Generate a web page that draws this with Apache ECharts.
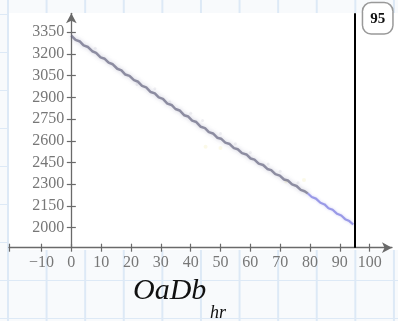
<!DOCTYPE html>
<html><head><meta charset="utf-8">
<script src="https://cdn.jsdelivr.net/npm/echarts@6/dist/echarts.min.js"></script>
<style>
html,body{margin:0;padding:0;}
body{width:398px;height:321px;overflow:hidden;background-color:#f8fafc;
background-image:linear-gradient(to right,#dde9f6 1.5px,transparent 1.5px),linear-gradient(to bottom,#dde9f6 1.5px,transparent 1.5px);
background-size:38.6px 38px;background-position:7px 14px;position:relative;}
#panel{position:absolute;left:9px;top:13px;width:389px;height:237px;background:#fff;}
#chart{position:absolute;left:0;top:0;width:398px;height:321px;}
</style></head><body><div id="panel"></div><div id="chart"></div>
<script>
// ---- data ----
const xTicks = [-10, 0, 10, 20, 30, 40, 50, 60, 70, 80, 90, 100];
const yTicks = [2000, 2150, 2300, 2450, 2600, 2750, 2900, 3050, 3200, 3350];
const markX = 95;
const mainX = [0, 1.4, 2.9, 4.1, 5.6, 7.0, 8.3, 9.8, 11.2, 12.5, 13.9, 15.4, 16.8, 18.1, 19.5, 21.0, 22.4, 23.7, 25.1, 26.6, 28.0, 29.3, 30.7, 32.2, 33.6, 34.9, 36.3, 37.8, 39.2, 40.5, 41.9, 43.4, 44.8, 46.1, 47.5, 48.9, 50.2, 51.6, 53.1, 54.5, 55.8, 57.2, 58.7, 60.1, 61.4, 62.8, 64.3, 65.7, 67.0, 68.4, 69.9, 71.3, 72.6, 74.0, 75.5, 76.9, 78.2, 79.3];
const mainY = [3327, 3298, 3286, 3259, 3248, 3219, 3208, 3177, 3167, 3140, 3129, 3098, 3087, 3058, 3049, 3019, 3008, 2980, 2969, 2937, 2928, 2900, 2890, 2857, 2848, 2820, 2810, 2777, 2768, 2740, 2730, 2697, 2688, 2660, 2651, 2622, 2615, 2588, 2578, 2550, 2542, 2515, 2506, 2478, 2470, 2443, 2433, 2406, 2398, 2370, 2360, 2333, 2326, 2299, 2288, 2261, 2252, 2236];
const tailX = [79.3, 80.6, 82.0, 83.5, 84.9, 86.2, 87.6, 89.1, 90.5, 91.8, 93.2, 94.5];
const tailY = [2236, 2212, 2201, 2172, 2161, 2135, 2124, 2096, 2084, 2059, 2046, 2022];
const faintX = [8, 22, 28, 33, 40, 44, 50, 55, 60, 66, 70, 76];
const faintY = [3240, 2990, 2960, 2870, 2790, 2740, 2650, 2580, 2520, 2440, 2390, 2310];
const paleX = [45, 50, 72, 78];
const paleY = [2560, 2550, 2320, 2330];

const X_MIN = -20.9, X_MAX = 107.5, Y_MIN = 1862, Y_MAX = 3481;
const GRID_LEFT = 9, GRID_RIGHT = 6;
const zip = (a, b) => a.map((v, i) => [v, b[i]]);
const axisColor = '#6a6a6a';
const font = 'Liberation Serif';
const minus = v => String(v).replace('-', '\u2212');
const plain = v => String(v);
// y axis sits at x = 0
const yOffset = -(0 - X_MIN) / (X_MAX - X_MIN) * (398 - GRID_LEFT - GRID_RIGHT);

const chart = echarts.init(document.getElementById('chart'));
chart.setOption({
  animation: false,
  grid: { left: GRID_LEFT, right: GRID_RIGHT, top: 13.3, bottom: 73.3, containLabel: false, outerBoundsMode: 'none' },
  xAxis: [{
    type: 'value', min: X_MIN, max: X_MAX, position: 'bottom',
    axisLine: { show: true, onZero: false, symbol: ['none', 'arrow'], symbolSize: [8, 10], lineStyle: { color: axisColor, width: 1.3 } },
    axisTick: { show: true, inside: false, length: 4, customValues: [X_MIN].concat(xTicks), lineStyle: { color: axisColor, width: 1.2 } },
    axisLabel: { show: true, customValues: xTicks, margin: 7, formatter: minus, color: '#777', fontFamily: font, fontSize: 16 },
    splitLine: { show: false }
  }, {
    type: 'value', min: X_MIN, max: X_MAX, position: 'bottom',
    axisLine: { show: false, onZero: false },
    axisTick: { show: true, inside: true, length: 4, customValues: [X_MIN].concat(xTicks), lineStyle: { color: axisColor, width: 1.2 } },
    axisLabel: { show: false }, splitLine: { show: false }
  }],
  yAxis: [{
    type: 'value', min: Y_MIN, max: Y_MAX, position: 'left', offset: yOffset,
    axisLine: { show: true, onZero: false, symbol: ['none', 'arrow'], symbolSize: [8, 10], lineStyle: { color: axisColor, width: 1.3 } },
    axisTick: { show: true, inside: false, length: 4.5, customValues: yTicks, lineStyle: { color: axisColor, width: 1.2 } },
    axisLabel: { show: true, customValues: yTicks, margin: 7, formatter: plain, color: '#777', fontFamily: font, fontSize: 16 },
    splitLine: { show: false }
  }, {
    type: 'value', min: Y_MIN, max: Y_MAX, position: 'left', offset: yOffset,
    axisLine: { show: false, onZero: false },
    axisTick: { show: true, inside: true, length: 4.5, customValues: yTicks, lineStyle: { color: axisColor, width: 1.2 } },
    axisLabel: { show: false }, splitLine: { show: false }
  }],
  series: [{
    type: 'scatter', silent: true, data: zip(faintX, faintY), symbolSize: 3,
    itemStyle: { color: 'rgba(150,150,175,0.18)' }
  }, {
    type: 'scatter', silent: true, data: zip(paleX, paleY), symbolSize: 4,
    itemStyle: { color: 'rgba(240,232,160,0.3)' }
  }, {
    type: 'line', silent: true, data: zip(mainX, mainY), showSymbol: false,
    lineStyle: { color: '#62627c', width: 2.5, opacity: 0.68, shadowBlur: 4, shadowColor: 'rgba(120,120,160,0.6)' },
    markLine: {
      silent: true, symbol: 'none', animation: false,
      lineStyle: { color: '#000', width: 2, type: 'solid' },
      label: {
        show: true, position: 'end', distance: 0, offset: [23, 20], formatter: () => String(markX),
        color: '#111', fontFamily: font, fontSize: 15, fontWeight: 'bold', lineHeight: 15,
        backgroundColor: '#fff', borderColor: '#999', borderWidth: 1.5, borderRadius: 8, padding: [8, 7, 7, 7]
      },
      data: [{ xAxis: markX }]
    }
  }, {
    type: 'line', silent: true, data: zip(tailX, tailY), showSymbol: false,
    lineStyle: { color: '#8080e0', width: 2.2, opacity: 0.75, shadowBlur: 3, shadowColor: 'rgba(130,130,230,0.5)' }
  }],
  graphic: [{
    type: 'text', left: 133, top: 276,
    style: { text: 'OaDb', fontFamily: font, fontStyle: 'italic', fontSize: 30, fill: '#111' }
  }, {
    type: 'text', left: 210, top: 304,
    style: { text: 'hr', fontFamily: font, fontStyle: 'italic', fontSize: 18, fill: '#111' }
  }]
});
</script></body></html>
